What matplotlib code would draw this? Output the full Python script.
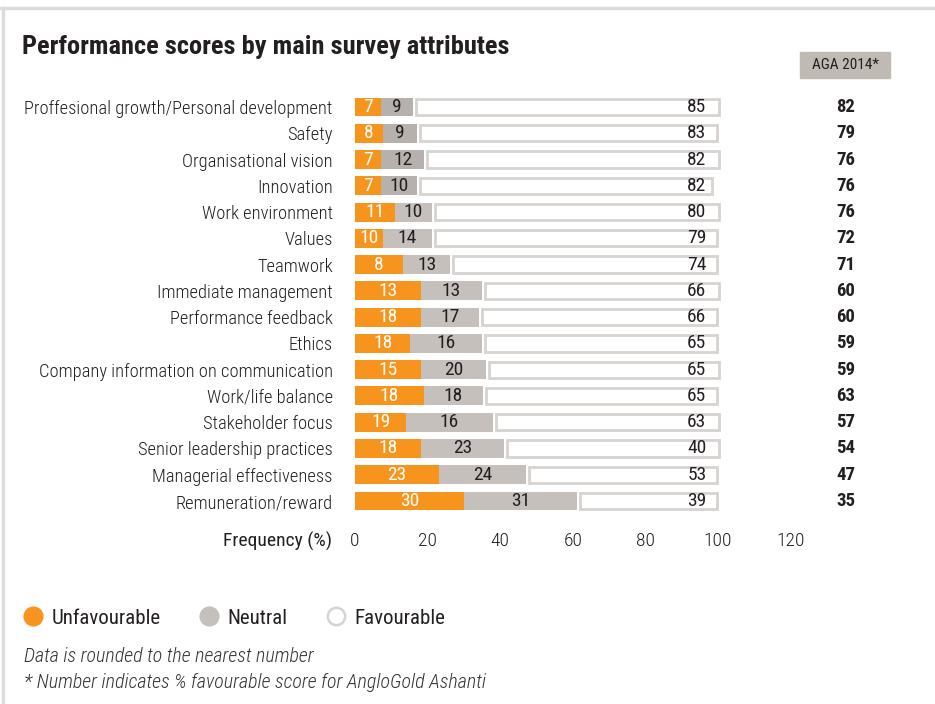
import matplotlib
matplotlib.use("Agg")
import matplotlib.pyplot as plt
from matplotlib.lines import Line2D
from matplotlib.patches import Rectangle

categories = [
    "Proffesional growth/Personal development",
    "Safety",
    "Organisational vision",
    "Innovation",
    "Work environment",
    "Values",
    "Teamwork",
    "Immediate management",
    "Performance feedback",
    "Ethics",
    "Company information on communication",
    "Work/life balance",
    "Stakeholder focus",
    "Senior leadership practices",
    "Managerial effectiveness",
    "Remuneration/reward",
]
# printed labels
unfavourable = [7, 8, 7, 7, 11, 10, 8, 13, 18, 18, 15, 18, 19, 18, 23, 30]
neutral = [9, 9, 12, 10, 10, 14, 13, 13, 17, 16, 20, 18, 16, 23, 24, 31]
favourable = [85, 83, 82, 82, 80, 79, 74, 66, 66, 65, 65, 65, 63, 40, 53, 39]
aga_2014 = [82, 79, 76, 76, 76, 72, 71, 60, 60, 59, 59, 63, 57, 54, 47, 35]

# bar lengths as drawn in the original (they do not always match the labels)
unf_bar = [7.2, 7.8, 7.2, 7.2, 11.0, 7.8, 13.3, 18.2, 18.2, 15.2, 18.2, 19.0, 14.1, 18.2, 23.2, 30.1]
neu_end = [16.0, 17.0, 19.1, 17.0, 21.1, 21.1, 26.2, 34.9, 34.2, 34.9, 36.0, 35.2, 37.9, 41.1, 47.0, 61.2]
fav_end = [100.6, 99.8, 100.6, 98.6, 100.6, 99.8, 99.8, 100.6, 99.8, 99.8, 100.6, 99.8, 100.6, 100.6, 99.8, 99.8]

xticks = [0, 20, 40, 60, 80, 100, 120]

ORANGE = "#F7941E"
GREY = "#C5C0BC"
GREY_DARK = "#B6B1AD"  # first rows use a slightly darker grey in the original
EDGE = "#D6D3D0"
TEXT = "#231F20"

plt.rcParams["font.family"] = ["Roboto Condensed", "DejaVu Sans"]

W, H = 935, 704
fig = plt.figure(figsize=(W / 100, H / 100), dpi=100)

# frame lines (top and left)
fig.add_artist(Line2D([0, 1], [1 - 8 / H, 1 - 8 / H], color="#DCDCDC", lw=2.5))
fig.add_artist(Line2D([3 / W, 3 / W], [0, 1 - 8 / H], color="#DCDCDC", lw=2.5))

px = 3.63  # pixels per data unit
top_px, bot_px = 107 - 13.14, 501 + 13.14
ax = fig.add_axes([355 / W, 1 - bot_px / H, 160 * px / W, (bot_px - top_px) / H])

y = list(range(len(categories)))
neu_colors = [GREY_DARK if i < 4 else GREY for i in y]
ax.barh(y, unf_bar, height=0.72, color=ORANGE, linewidth=0)
ax.barh(y, [e - u for e, u in zip(neu_end, unf_bar)], left=unf_bar, height=0.72,
        color=neu_colors, linewidth=0)
fav_left = [e + 0.65 for e in neu_end]
ax.barh(y, [f - l - 0.4 for f, l in zip(fav_end, fav_left)], left=[l + 0.2 for l in fav_left],
        height=0.62, color="white", edgecolor=EDGE, linewidth=2)

for i in y:
    ax.text(unf_bar[i] / 2, i, str(unfavourable[i]), color="white", ha="center",
            va="center", fontsize=14)
    ax.text((unf_bar[i] + neu_end[i]) / 2, i, str(neutral[i]), color=TEXT, ha="center",
            va="center", fontsize=14)
    ax.text(96.8, i, str(favourable[i]), color=TEXT, ha="right", va="center", fontsize=14)
    ax.text(135.2, i, str(aga_2014[i]), color=TEXT, ha="center", va="center",
            fontsize=13.5, fontweight="bold")

ax.set_xlim(0, 160)
ax.set_ylim(len(categories) - 0.5, -0.5)
ax.set_yticks(y)
ax.set_yticklabels(categories, fontsize=13.3, color=TEXT, fontweight="light")
ax.set_xticks(xticks)
ax.set_xticklabels([str(t) for t in xticks], fontsize=14, color=TEXT, fontweight="light")
ax.tick_params(length=0, axis="y", pad=16)
ax.tick_params(length=0, axis="x", pad=13)
for s in ax.spines.values():
    s.set_visible(False)

fig.text(332 / W, 1 - 541 / H, "Frequency (%)", ha="right", va="center", fontsize=14,
         color=TEXT)

fig.text(22 / W, 1 - 47 / H, "Performance scores by main survey attributes", ha="left",
         va="center", fontsize=19, fontweight="bold", color=TEXT)

fig.add_artist(Rectangle((800 / W, 1 - 78 / H), 90 / W, 26 / H, color="#C0BAB5",
                         transform=fig.transFigure))
fig.text(845 / W, 1 - 65 / H, "AGA 2014*", ha="center", va="center", fontsize=11,
         color=TEXT)

handles = [
    Line2D([], [], marker="o", ls="", ms=13.5, mfc=ORANGE, mec=ORANGE),
    Line2D([], [], marker="o", ls="", ms=13.5, mfc=GREY, mec=GREY),
    Line2D([], [], marker="o", ls="", ms=12.5, mfc="white", mec=EDGE, mew=1.8),
]
fig.legend(handles, ["Unfavourable", "Neutral", "Favourable"], loc="center left",
           bbox_to_anchor=(2 / W, 1 - 618 / H), ncol=3, frameon=False,
           prop={"size": 15},
           handletextpad=0.3, columnspacing=1.7, handlelength=1.2, labelcolor=TEXT)

fig.text(24 / W, 1 - 657 / H, "Data is rounded to the nearest number", ha="left",
         va="center", fontsize=14.4, style="italic", fontweight="light", color="#333333")
fig.text(24 / W, 1 - 683 / H, "* Number indicates % favourable score for AngloGold Ashanti",
         ha="left", va="center", fontsize=14.4, style="italic", fontweight="light",
         color="#333333")

fig.savefig("out.png", dpi=100, facecolor="white")
